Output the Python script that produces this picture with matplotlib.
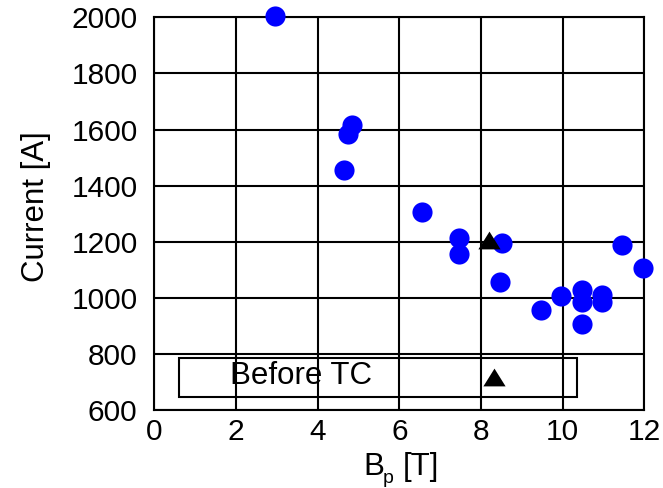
import matplotlib
matplotlib.use('Agg')
import matplotlib.pyplot as plt
from matplotlib.patches import Rectangle

plt.rcParams['font.family'] = ['Liberation Sans', 'DejaVu Sans']

# measured points (circles)
bp = [2.95, 4.85, 4.75, 4.65, 6.56, 7.46, 7.46, 8.51, 8.46,
      9.46, 9.96, 10.46, 10.46, 10.46, 10.96, 10.96, 11.46, 11.96]
current = [2006, 1616, 1584, 1455, 1307, 1213, 1155, 1197, 1056,
           957, 1007, 1027, 986, 907, 1010, 986, 1187, 1107]

# before TC (triangle)
bp_tc = [8.2]
current_tc = [1205]

xticks = [0, 2, 4, 6, 8, 10, 12]
yticks = [600, 800, 1000, 1200, 1400, 1600, 1800, 2000]

tri = [(-1, -0.8), (1, -0.8), (0, 0.8)]

fig = plt.figure(figsize=(6.63, 4.88), dpi=100)
ax = fig.add_axes([0.2327, 0.1598, 0.7393, 0.8047])

ax.plot(bp, current, 'o', color='#0000ff', markersize=14.5, mew=0, clip_on=False, zorder=3)
ax.plot(bp_tc, current_tc, marker=tri, ls='none', color='black', markersize=16, mew=0, zorder=4)

ax.set_xlim(0, 12)
ax.set_ylim(600, 2000)
ax.set_xticks(xticks)
ax.set_yticks(yticks)
ax.grid(True, color='black', linewidth=1.5)
ax.set_axisbelow(True)
for s in ax.spines.values():
    s.set_linewidth(1.5)
ax.tick_params(direction='in', length=0, labelsize=21.5)
ax.tick_params(axis='x', pad=6)
ax.tick_params(axis='y', pad=12)

ax.set_ylabel('Current [A]', fontsize=22.5)
ax.yaxis.set_label_coords(-0.21, 0.517)

# x label with low subscript
fig.text(363 / 663, 13 / 488, 'B', fontsize=22.5, ha='left', va='baseline')
fig.text(383 / 663, 5 / 488, 'p', fontsize=14, ha='left', va='baseline')
fig.text(403 / 663, 13 / 488, '[T]', fontsize=22.5, ha='left', va='baseline')

# legend box drawn by hand
ax.add_patch(Rectangle((0.051, 0.034), 0.811, 0.099, transform=ax.transAxes,
                       facecolor='none', edgecolor='black', linewidth=1.5, zorder=5))
ax.text(0.1545, 0.0866, 'Before TC', transform=ax.transAxes, fontsize=22.5,
        va='center', ha='left', zorder=6)
ax.plot([0.693], [0.084], marker=tri, ls='none', color='black', markersize=16, mew=0,
        transform=ax.transAxes, zorder=6, clip_on=False)

fig.savefig('out.png', dpi=100)
